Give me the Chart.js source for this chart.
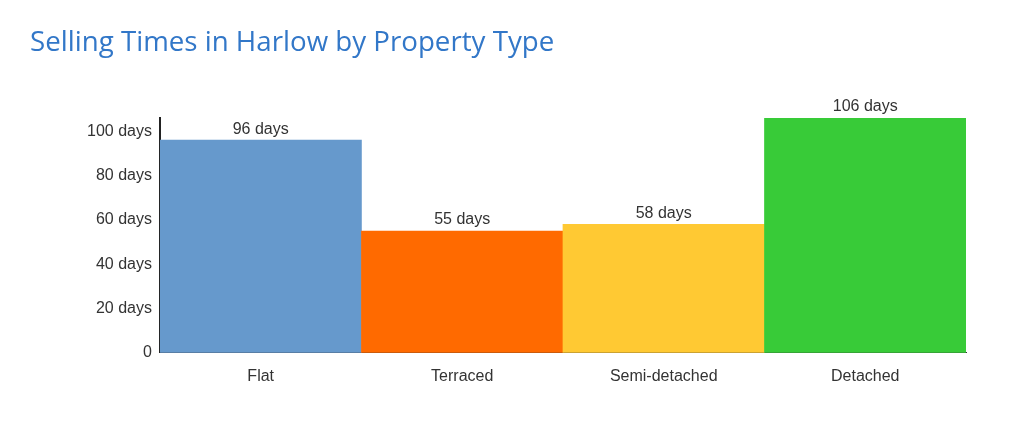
<!DOCTYPE html>
<html>
<head>
<meta charset="utf-8">
<script src="https://cdn.jsdelivr.net/npm/chart.js@4/dist/chart.umd.min.js"></script>
<style>
    html, body { margin: 0; padding: 0; background: #fff; }
    #wrap { position: relative; width: 1024px; height: 431px; }
    #title {
        position: absolute; left: 30px; top: 21px;
        font-family: "Open Sans", sans-serif; font-weight: 500;
        font-size: 27.7px; color: #3277c8; white-space: nowrap;
    }
</style>
</head>
<body>
<div id="wrap">
    <div id="title">Selling Times in Harlow by Property Type</div>
    <canvas id="chart"></canvas>
</div>
<script>
const categories = ['Flat', 'Terraced', 'Semi-detached', 'Detached']
const sellingDays = [96, 55, 58, 106]
const barColours = ['#6699cc', '#ff6a00', '#ffc933', '#38cb38']

// draws "N days" above each bar
const valueLabels = {
    id: 'valueLabels',
    afterDatasetsDraw(chart) {
        const ctx = chart.ctx
        const meta = chart.getDatasetMeta(0)
        ctx.save()
        ctx.font = '16px "Liberation Sans", Arial, sans-serif'
        ctx.fillStyle = '#333'
        ctx.textAlign = 'center'
        ctx.textBaseline = 'bottom'
        meta.data.forEach((bar, i) => {
            ctx.fillText(sellingDays[i] + ' days', bar.x, bar.y - 3)
        })
        ctx.restore()
    }
}

const ctx = document.getElementById('chart')
ctx.width = 1024
ctx.height = 431

new Chart(ctx, {
    type: 'bar',
    data: {
        labels: categories,
        datasets: [{
            data: sellingDays,
            backgroundColor: barColours,
            barPercentage: 1,
            categoryPercentage: 1,
        }]
    },
    options: {
        responsive: false,
        animation: false,
        layout: {
            padding: { left: 87, right: 58, top: 118, bottom: 39 }
        },
        plugins: {
            legend: { display: false },
            tooltip: { enabled: false }
        },
        scales: {
            x: {
                grid: { display: false },
                border: { display: true, color: '#333', width: 1 },
                ticks: {
                    color: '#333',
                    padding: 6,
                    font: { family: '"Liberation Sans", Arial, sans-serif', size: 16 }
                }
            },
            y: {
                min: 0,
                max: 106,
                grid: { display: false },
                border: { display: true, color: '#222', width: 2 },
                ticks: {
                    stepSize: 20,
                    includeBounds: false,
                    color: '#333',
                    padding: 0,
                    font: { family: '"Liberation Sans", Arial, sans-serif', size: 16 },
                    callback: v => v === 0 ? '0' : v + ' days'
                }
            }
        }
    },
    plugins: [valueLabels]
})
</script>
</body>
</html>
